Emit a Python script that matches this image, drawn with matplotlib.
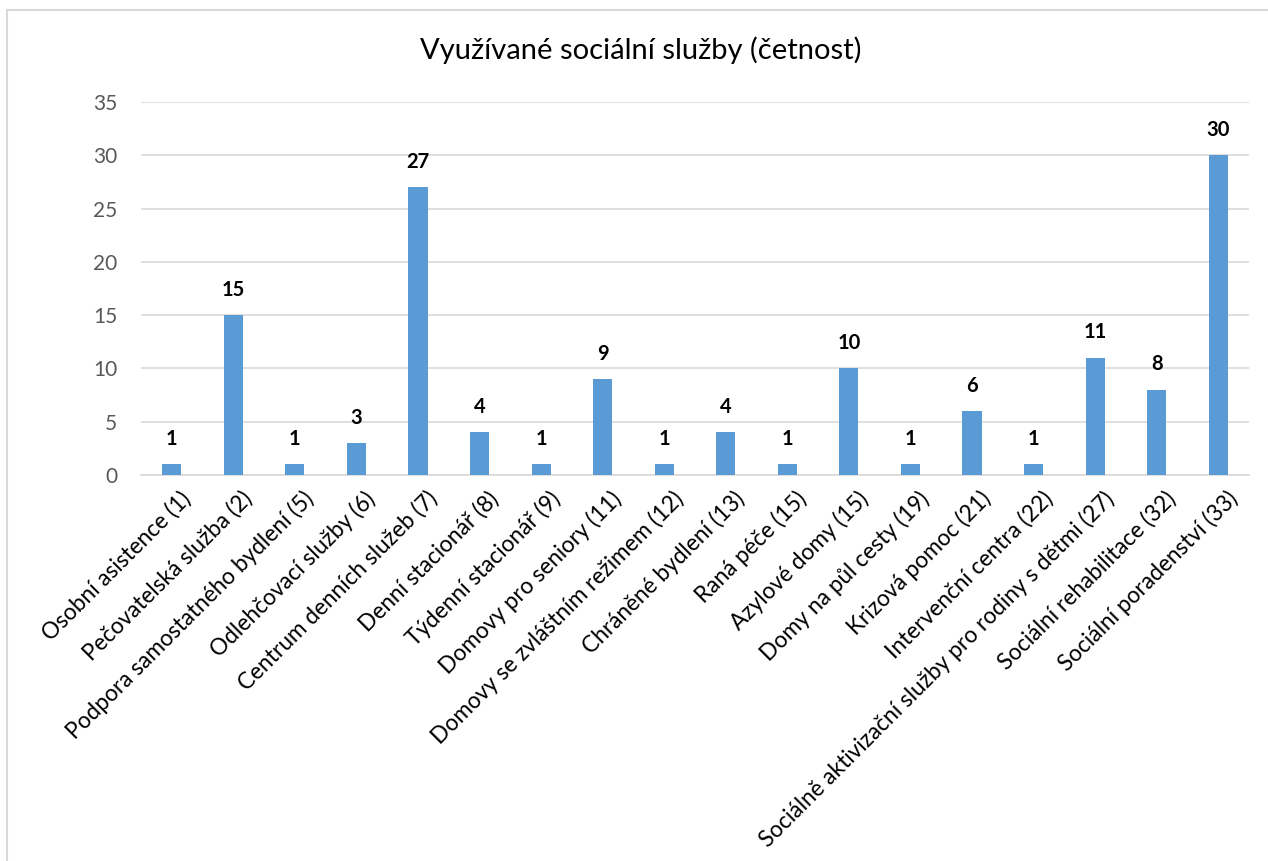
import matplotlib
matplotlib.use("Agg")
from matplotlib import pyplot as plt
from matplotlib.lines import Line2D
from matplotlib.transforms import ScaledTranslation

categories = [
    "Osobní asistence (1)",
    "Pečovatelská služba (2)",
    "Podpora samostatného bydlení (5)",
    "Odlehčovací služby (6)",
    "Centrum denních služeb (7)",
    "Denní stacionář (8)",
    "Týdenní stacionář (9)",
    "Domovy pro seniory (11)",
    "Domovy se zvláštním režimem (12)",
    "Chráněné bydlení (13)",
    "Raná péče (15)",
    "Azylové domy (15)",
    "Domy na půl cesty (19)",
    "Krizová pomoc (21)",
    "Intervenční centra (22)",
    "Sociálně aktivizační služby pro rodiny s dětmi (27)",
    "Sociální rehabilitace (32)",
    "Sociální poradenství (33)",
]
values = [1, 15, 1, 3, 27, 4, 1, 9, 1, 4, 1, 10, 1, 6, 1, 11, 8, 30]
yticks = [0, 5, 10, 15, 20, 25, 30, 35]

plt.rcParams['font.family'] = ['Lato', 'DejaVu Sans']

W, H = 1268, 861
fig = plt.figure(figsize=(W / 100, H / 100), dpi=100)
# plot area in pixel coords
left, right, top, bottom = 141, 1249, 102, 475
ax = fig.add_axes([left / W, 1 - bottom / H, (right - left) / W, (bottom - top) / H])

# chart border (only top and left edges are visible in the crop)
border = dict(color="#d9d9d9", linewidth=1.5, transform=fig.transFigure)
fig.lines.append(Line2D([7 / W, 1], [1 - 10 / H, 1 - 10 / H], **border))
fig.lines.append(Line2D([7 / W, 7 / W], [0, 1 - 10 / H], **border))

x = list(range(len(categories)))
ax.bar(x, values, width=0.31, color="#5B9BD5", zorder=3)

for xi, v in zip(x, values):
    ax.annotate(str(v), (xi, v), xytext=(0, 11), textcoords="offset points",
                ha="center", va="bottom", fontsize=14.5, fontweight="bold", color="black")

ax.set_xlim(-0.5, len(categories) - 0.5)
ax.set_ylim(0, 35)
ax.set_yticks(yticks)
ax.yaxis.grid(True, color="#d9d9d9", linewidth=1.2, zorder=0)
ax.set_axisbelow(True)
for s in ["top", "right", "left"]:
    ax.spines[s].set_visible(False)
ax.spines["bottom"].set_color("#d9d9d9")
ax.spines["bottom"].set_linewidth(1.2)
ax.tick_params(axis="y", length=0, pad=17, labelsize=15, labelcolor="#595959")
ax.tick_params(axis="x", length=0, pad=9)
ax.set_xticks(x)
ax.set_xticklabels(categories, rotation=45, ha="right", rotation_mode="anchor",
                   fontsize=16.3, color="black")
shift = ScaledTranslation(8 / 100, 0, fig.dpi_scale_trans)
for lab in ax.get_xticklabels():
    lab.set_transform(lab.get_transform() + shift)

fig.text(641 / W, 1 - 50 / H, "Využívané sociální služby (četnost)", ha="center", va="center",
         fontsize=21, color="black")

fig.savefig("out.png", dpi=100)
